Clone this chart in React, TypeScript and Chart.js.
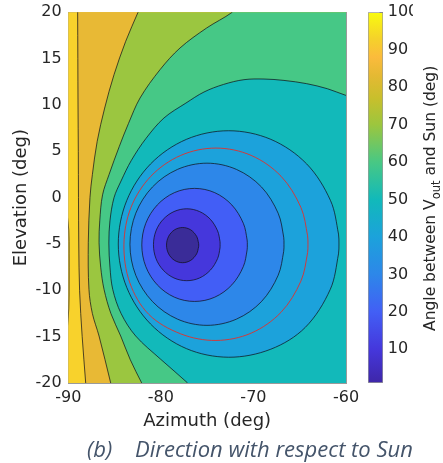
import React, { useEffect, useRef } from 'react';
import { Chart, registerables } from 'chart.js';

Chart.register(...registerables);

type Pt = [number, number];

// ---- axes / ticks ----
const azimuthTicks = [-90, -80, -70, -60];
const elevationTicks = [-20, -15, -10, -5, 0, 5, 10, 15, 20];
const angleTicks = [10, 20, 30, 40, 50, 60, 70, 80, 90, 100];
const angleRange = [1, 100];

// ---- band fill colours (inner -> outer) ----
const bandColors = ['#3a2c98', '#4537dc', '#425ef6', '#2d87e9', '#1ca2db', '#12b9ba', '#46c886', '#9bc640', '#e8b935', '#f8d22c'];

// ---- colour bar stops ----
const cbStopValues = [1, 10, 20, 30, 40, 50, 60, 70, 77, 83, 88, 93, 100];
const cbStopColors = ['#3e26a8', '#4537dc', '#425ff5', '#2d87e9', '#1ca2db', '#11b9ba', '#48c884', '#9cc63e', '#c8bf2c', '#e4b933', '#fbbb3c', '#f5d22a', '#f9fb0e'];

// ---- contour curves [azimuth, elevation] ----
const plotBounds: Pt[] = [[-50, -30], [-100, -30], [-100, 30], [-50, 30]];
const contour9: Pt[] = [[-50, 30], [-89.0, 20.7], [-88.99, 20], [-88.97, 15], [-88.95, 10], [-88.92, 5], [-88.9, 0], [-88.87, -5], [-88.78, -10], [-88.5, -15], [-88.12, -20], [-88.08, -20.7], [-50, -30]];
const contour8: Pt[] = [[-50, 30], [-82.2, 20.7], [-82.47, 20], [-83.8, 16.87], [-85.06, 13.27], [-86.07, 9.67], [-86.88, 6.07], [-87.4, 2.48], [-87.66, 0], [-87.84, -4.86], [-87.77, -9.89], [-87.4, -12.5], [-86.68, -14.93], [-85.42, -20], [-85.25, -20.7], [-50, -30]];
const contour7: Pt[] = [[-50, 30], [-71.8, 20.7], [-72.3, 20.0], [-75.05, 18.31], [-77.93, 16.15], [-80.09, 13.81], [-82.25, 10.75], [-83.5, 8.0], [-84.5, 5.5], [-85.6, 2.48], [-86.3, 0.3], [-86.6, -2.5], [-86.68, -4.86], [-86.5, -7.5], [-86.14, -9.89], [-85.4, -12.5], [-84.34, -14.93], [-83.3, -17.5], [-82.07, -20], [-81.7, -20.7], [-50, -30]];
const contour6: Pt[] = [[-50, -30], [-50, 10.7], [-59.2, 10.85], [-60.03, 11.04], [-62.0, 11.75], [-64.25, 12.3], [-66.7, 12.65], [-68.86, 12.8], [-71.02, 12.73], [-73.22, 12.22], [-75.34, 11.4], [-77.3, 10.2], [-79.66, 8.6], [-81.6, 6.4], [-83.2, 4.0], [-84.3, 1.8], [-85.06, 0], [-85.5, -2.5], [-85.62, -4.9], [-85.5, -7.5], [-85.2, -9.9], [-84.3, -12.5], [-82.72, -14.93], [-80.02, -17.44], [-77.14, -19.97], [-76.6, -20.6]];
const contour5: Pt[] = [[-60.76, -5.0], [-60.81, -3.93], [-61.67, -0.32], [-64.25, 3.64], [-68.12, 6.29], [-72.68, 7.22], [-77.24, 6.29], [-81.11, 3.64], [-83.69, -0.32], [-84.6, -5.0], [-83.69, -9.68], [-81.11, -13.64], [-77.24, -16.29], [-72.68, -17.22], [-68.12, -16.35], [-64.4, -14.0], [-61.7, -9.9], [-60.81, -6.07], [-60.76, -5.0]];
const redCircle: Pt[] = [[-64.11, -5.03], [-64.15, -4.12], [-64.87, -1.06], [-67.02, 2.31], [-70.25, 4.56], [-74.05, 5.35], [-77.85, 4.56], [-81.08, 2.31], [-83.23, -1.06], [-83.99, -5.03], [-83.35, -9.2], [-81.3, -12.6], [-77.85, -14.7], [-74.05, -15.41], [-70.25, -14.62], [-67.02, -12.37], [-64.87, -9.0], [-64.15, -5.94], [-64.11, -5.03]];
const contour4: Pt[] = [[-66.7, -5.03], [-66.73, -4.27], [-67.33, -1.68], [-69.14, 1.16], [-71.84, 3.05], [-75.02, 3.72], [-78.2, 3.05], [-80.9, 1.16], [-82.71, -1.68], [-83.34, -5.03], [-82.71, -8.38], [-80.9, -11.22], [-78.2, -13.11], [-75.02, -13.78], [-71.84, -13.11], [-69.14, -11.22], [-67.33, -8.38], [-66.73, -5.79], [-66.7, -5.03]];
const contour3: Pt[] = [[-70.66, -5.1], [-70.68, -4.57], [-71.09, -2.77], [-72.33, -0.79], [-74.18, 0.54], [-76.36, 1.0], [-78.54, 0.54], [-80.39, -0.79], [-81.63, -2.77], [-82.06, -5.1], [-81.63, -7.43], [-80.39, -9.41], [-78.54, -10.74], [-76.36, -11.2], [-74.18, -10.74], [-72.33, -9.41], [-71.09, -7.43], [-70.68, -5.63], [-70.66, -5.1]];
const contour2: Pt[] = [[-73.6, -5.08], [-73.61, -4.74], [-73.87, -3.59], [-74.65, -2.34], [-75.82, -1.5], [-77.2, -1.2], [-78.58, -1.5], [-79.75, -2.34], [-80.53, -3.59], [-80.8, -5.08], [-80.53, -6.57], [-79.75, -7.82], [-78.58, -8.67], [-77.2, -8.96], [-75.82, -8.67], [-74.65, -7.82], [-73.87, -6.57], [-73.61, -5.42], [-73.6, -5.08]];
const contour1: Pt[] = [[-75.91, -5.12], [-75.92, -4.95], [-76.14, -4.17], [-76.78, -3.47], [-77.65, -3.22], [-78.52, -3.47], [-79.16, -4.17], [-79.39, -5.12], [-79.16, -6.07], [-78.52, -6.77], [-77.65, -7.02], [-76.78, -6.77], [-76.14, -6.07], [-75.92, -5.29], [-75.91, -5.12]];
const contour10: Pt[] = [[-90.1, -2.0], [-89.95, -3.5], [-89.92, -6], [-89.92, -9], [-89.95, -12], [-90.1, -14]];

const FONT = 'DejaVu Sans';
const TXT = '#262626';
const BOX = '#9a9a9a';
const TICK = '#555555';
const LINE = 'rgba(15,15,25,0.9)';
const RED = '#e0302c';
const TENSION = 0.34;
const TL = -3.5; // negative tick length => ticks point into the plot (MATLAB style)

export default function App() {
  const mainRef = useRef<HTMLCanvasElement>(null);
  const barRef = useRef<HTMLCanvasElement>(null);

  useEffect(() => {
    const pts = (a: Pt[]) => a.map(([x, y]) => ({ x, y }));
    const area = (a: Pt[], color: string, stroke = true) => ({
      data: pts(a),
      showLine: true,
      fill: 'shape',
      backgroundColor: color,
      borderColor: stroke ? LINE : 'rgba(0,0,0,0)',
      borderWidth: stroke ? 0.8 : 0,
      pointRadius: 0,
      pointHoverRadius: 0,
      tension: TENSION,
      capBezierPoints: false,
    });
    const line = (a: Pt[], color: string, w: number) => ({
      data: pts(a),
      showLine: true,
      fill: false,
      borderColor: color,
      borderWidth: w,
      pointRadius: 0,
      pointHoverRadius: 0,
      tension: TENSION,
      capBezierPoints: false,
    });
    const layers: any[] = [
      area(plotBounds, bandColors[9], false),
      area(contour9, bandColors[8]),
      area(contour8, bandColors[7]),
      area(contour7, bandColors[6]),
      area(contour6, bandColors[5]),
      area(contour5, bandColors[4]),
      line(redCircle, RED, 0.9),
      area(contour4, bandColors[3]),
      area(contour3, bandColors[2]),
      area(contour2, bandColors[1]),
      area(contour1, bandColors[0]),
      line(contour10, LINE, 0.8),
    ];
    const datasets = layers.map((d, i) => ({ ...d, order: layers.length - i }));

    const tickFont = { family: FONT, size: 16 };
    const titleFont = { family: FONT, size: 18 };
    const gridMain = { color: 'rgba(30,30,30,0.13)', drawTicks: true, tickLength: TL, tickColor: TICK, tickWidth: 1, lineWidth: 1 };
    const gridMirror = { display: true, drawOnChartArea: false, drawTicks: true, tickLength: TL, tickColor: TICK, tickWidth: 1 };
    const noVPad = (s: any, w: number) => { s.width = w; s.paddingTop = 0; s.paddingBottom = 0; };

    const main = new Chart(mainRef.current as HTMLCanvasElement, {
      type: 'scatter',
      data: { datasets },
      options: {
        animation: false,
        responsive: false,
        events: [],
        layout: { padding: { left: 0, right: 97, top: 12.3, bottom: 31 } },
        plugins: { legend: { display: false }, tooltip: { enabled: false } },
        scales: {
          x: {
            type: 'linear',
            min: -90,
            max: -60,
            z: 1,
            afterBuildTicks: (s: any) => { s.ticks = azimuthTicks.map((v) => ({ value: v })); },
            afterFit: (s: any) => { s.height = 49; s.paddingLeft = 0; s.paddingRight = 0; },
            ticks: { font: tickFont, color: TXT, padding: 5.5 - TL, maxRotation: 0, callback: (v: any) => String(v) },
            grid: gridMain,
            border: { display: true, color: BOX, width: 1 },
            title: { display: true, text: 'Azimuth (deg)', font: titleFont, color: TXT, padding: { top: 0, bottom: 0 } },
          },
          y: {
            type: 'linear',
            min: -20,
            max: 20,
            z: 1,
            afterBuildTicks: (s: any) => { s.ticks = elevationTicks.map((v) => ({ value: v })); },
            afterFit: (s: any) => noVPad(s, 68.3),
            ticks: { font: tickFont, color: TXT, padding: 6.6 - TL, callback: (v: any) => String(v) },
            grid: gridMain,
            border: { display: true, color: BOX, width: 1 },
            title: { display: true, text: 'Elevation (deg)', font: titleFont, color: TXT, padding: { top: 11, bottom: 0 } },
          },
          xTop: {
            type: 'linear',
            position: 'top',
            min: -90,
            max: -60,
            z: 1,
            afterBuildTicks: (s: any) => { s.ticks = azimuthTicks.map((v) => ({ value: v })); },
            afterFit: (s: any) => { s.height = 0; s.paddingLeft = 0; s.paddingRight = 0; },
            ticks: { display: false },
            grid: gridMirror,
            border: { display: true, color: BOX, width: 1 },
          },
          yRight: {
            type: 'linear',
            position: 'right',
            min: -20,
            max: 20,
            z: 1,
            afterBuildTicks: (s: any) => { s.ticks = elevationTicks.map((v) => ({ value: v })); },
            afterFit: (s: any) => noVPad(s, 0),
            ticks: { display: false },
            grid: gridMirror,
            border: { display: true, color: BOX, width: 1 },
          },
        },
      } as any,
    });

    const cbTitle = {
      id: 'cbTitle',
      afterDraw(chart: any) {
        const { ctx, chartArea } = chart;
        const a = 'Angle between V';
        const sub = 'out';
        const b = ' and Sun (deg)';
        const mainFont = `15.5px "${FONT}"`;
        const subFont = `11.5px "${FONT}"`;
        ctx.save();
        ctx.fillStyle = TXT;
        ctx.translate(chartArea.right + 51.5, (chartArea.top + chartArea.bottom) / 2 + 0.7);
        ctx.rotate(-Math.PI / 2);
        ctx.textBaseline = 'alphabetic';
        ctx.textAlign = 'left';
        ctx.font = mainFont;
        const wa = ctx.measureText(a).width;
        const wb = ctx.measureText(b).width;
        ctx.font = subFont;
        const ws = ctx.measureText(sub).width;
        let u = -(wa + ws + wb) / 2;
        ctx.font = mainFont;
        ctx.fillText(a, u, 0);
        u += wa;
        ctx.font = subFont;
        ctx.fillText(sub, u, 5.5);
        u += ws;
        ctx.font = mainFont;
        ctx.fillText(b, u, 0);
        ctx.restore();
      },
    };

    const bar = new Chart(barRef.current as HTMLCanvasElement, {
      type: 'bar',
      data: {
        labels: [''],
        datasets: [
          {
            data: [[angleRange[0], angleRange[1]]],
            backgroundColor: (c: any) => {
              const ch = c.chart;
              if (!ch.chartArea) return 'rgba(0,0,0,0)';
              const ys = ch.scales.y;
              const g = ch.ctx.createLinearGradient(0, ys.getPixelForValue(angleRange[0]), 0, ys.getPixelForValue(angleRange[1]));
              cbStopValues.forEach((v, i) => g.addColorStop((v - angleRange[0]) / (angleRange[1] - angleRange[0]), cbStopColors[i]));
              return g;
            },
            borderColor: BOX,
            borderWidth: 1,
            borderSkipped: false,
            barPercentage: 1,
            categoryPercentage: 1,
          } as any,
        ],
      },
      options: {
        animation: false,
        responsive: false,
        events: [],
        layout: { padding: { left: 368, right: 30, top: 12.3, bottom: 80 } },
        plugins: { legend: { display: false }, tooltip: { enabled: false } },
        scales: {
          x: { display: false },
          y: {
            position: 'right',
            min: angleRange[0],
            max: angleRange[1],
            z: 1,
            afterBuildTicks: (s: any) => { s.ticks = angleTicks.map((v) => ({ value: v })); },
            afterFit: (s: any) => noVPad(s, 30),
            ticks: { font: tickFont, color: TXT, padding: 4.7 - TL, callback: (v: any) => String(v) },
            grid: gridMirror,
            border: { display: false },
          },
        },
      } as any,
      plugins: [cbTitle],
    });

    return () => {
      main.destroy();
      bar.destroy();
    };
  }, []);

  const capStyle: React.CSSProperties = {
    position: 'absolute',
    top: 435.5,
    fontFamily: '"Open Sans", sans-serif',
    fontStyle: 'italic',
    fontSize: 22,
    lineHeight: '24px',
    color: '#44546A',
    whiteSpace: 'nowrap',
  };

  return (
    <div style={{ position: 'fixed', left: 0, top: 0, width: 443, height: 463, background: '#fff', overflow: 'hidden' }}>
      <canvas ref={mainRef} width={443} height={463} style={{ position: 'absolute', left: 0, top: 0 }} />
      <canvas ref={barRef} width={443} height={463} style={{ position: 'absolute', left: 0, top: 0 }} />
      <div style={{ ...capStyle, left: 87 }}>(b)</div>
      <div style={{ ...capStyle, left: 135 }}>Direction with respect to Sun</div>
    </div>
  );
}
